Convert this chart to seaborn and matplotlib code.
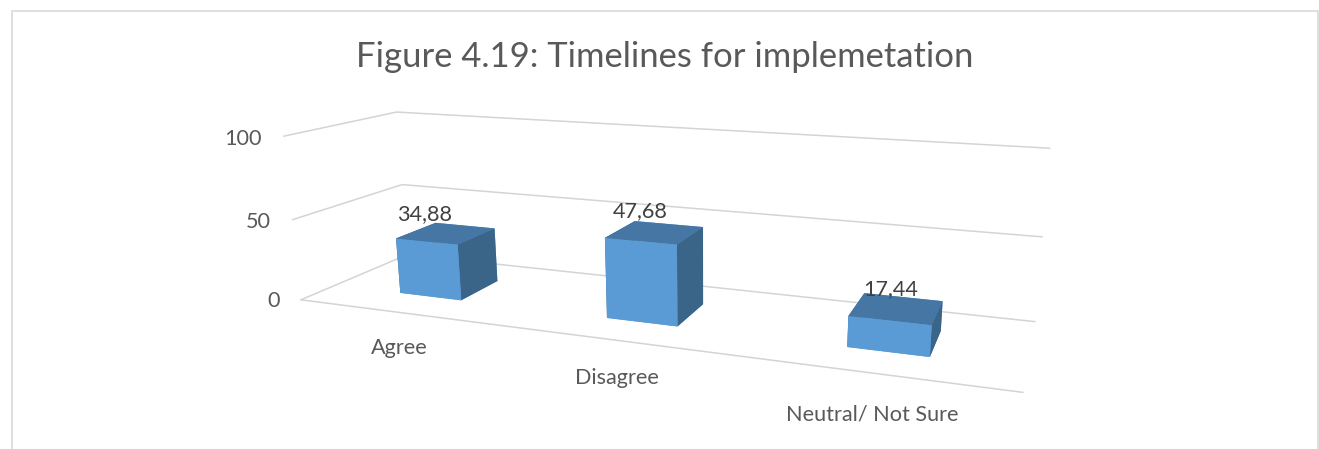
import numpy as np
import pandas as pd
import matplotlib
matplotlib.use("Agg")
import matplotlib.pyplot as plt
from matplotlib.lines import Line2D
from mpl_toolkits.mplot3d import Axes3D, proj3d  # noqa: F401
import seaborn as sns

# Survey responses, percent of respondents
categories = ["Agree", "Disagree", "Neutral/ Not Sure"]
values = [34.88, 47.68, 17.44]
value_labels = ["34,88", "47,68", "17,44"]
z_ticks = [0, 50, 100]
title = "Figure 4.19: Timelines for implemetation"

FRONT_FACE, TOP_FACE, SIDE_FACE = "#5B9BD5", "#4676A3", "#3A6488"
GRID, AXIS_TEXT, VALUE_TEXT = "#D4D4D4", "#595959", "#404040"
W, H = 1319, 449

sns.set_theme(style="white")
plt.rcParams["font.family"] = ["Lato", "DejaVu Sans"]

data = pd.DataFrame({"category": categories, "value": values, "label": value_labels})
data["slot"] = np.arange(len(data))


def camera_from_box_corners():
    """Solve the perspective camera for the plot box (x 0-3, y 0-1, z 0-100)."""
    box = [(0, 0, 0), (0, 0, 50), (0, 0, 100), (0, 1, 100), (0, 1, 50),
           (0, 1, 0), (3, 0, 0), (3, 1, 0), (3, 1, 50), (3, 1, 100)]
    screen = [(300, 300), (293, 220), (284, 136), (396, 112), (402, 185),
              (408, 254), (1023, 392), (1035, 322), (1042, 237), (1050, 148)]
    rows = []
    for (x, y, z), (u, v) in zip(box, screen):
        v = H - v
        rows.append([x, y, z, 1, 0, 0, 0, 0, -u * x, -u * y, -u * z, -u])
        rows.append([0, 0, 0, 0, x, y, z, 1, -v * x, -v * y, -v * z, -v])
    p = np.linalg.svd(np.array(rows, float))[2][-1].reshape(3, 4)
    p /= p[2, 3]
    # The third row keeps true camera depth so faces sort back to front.
    return np.vstack([p[0], p[1], [0, 0, 0, -0.5], p[2]])


fig = plt.figure(figsize=(W / 100, H / 100), dpi=100, facecolor="white")
ax = fig.add_axes([0, 0, 1, 1], projection="3d")
camera = camera_from_box_corners()
# The 'ortho' type only switches off the clip test on lines here; the solved
# perspective camera still does the projecting.
ax.set_proj_type("ortho")
ax.get_proj = lambda: camera
ax.apply_aspect = lambda position=None: None
ax.viewLim.intervalx = (0, W)
ax.viewLim.intervaly = (0, H)
ax.computed_zorder = False
ax.set_xticks([])
ax.set_yticks([])
ax.set_zticks([])
ax.set_axis_off()

# Unused empty text slots of the 3D axes
for empty in (ax.title, ax._left_title, ax._right_title):
    empty.set_visible(False)
for axis in (ax.xaxis, ax.yaxis, ax.zaxis):
    axis.label.set_visible(False)
    axis.offsetText.set_visible(False)


def label_at(x, y, z, text, color, ha="center"):
    """Write a flat label at the screen position of a point in the box."""
    u, v, _ = proj3d.proj_transform(x, y, z, camera)
    fig.text(u / W, v / H, text, ha=ha, va="center", fontsize=15.6,
             color=color, zorder=3)


# Back walls and floor edge
for tick in z_ticks:
    ax.plot([0, 0, 3], [0, 1, 1], [tick, tick, tick], color=GRID, lw=1.1, zorder=1)
    label_at(-0.115, 0, tick - 2.5, str(tick), AXIS_TEXT, ha="right")
ax.plot([0, 3], [0, 0], [0, 0], color=GRID, lw=1.1, zorder=1)

# Bars: one colour per face, in bar3d's order (-z, +z, -y, +y, -x, +x)
bar_width, depth_start, bar_depth = 0.31, 0.295, 0.39
lefts = data["slot"].to_numpy() + 0.5 - bar_width / 2
face_colors = [FRONT_FACE, TOP_FACE, FRONT_FACE, FRONT_FACE, SIDE_FACE, SIDE_FACE]
ax.bar3d(lefts, [depth_start] * len(data), [0] * len(data),
         bar_width, bar_depth, data["value"].to_numpy(),
         color=face_colors * len(data), shade=False, zorder=2,
         edgecolor="none", linewidth=0)

for row in data.itertuples():
    label_at(row.slot + 0.5, depth_start, row.value + 17, row.label, VALUE_TEXT)
    label_at(row.slot + 0.49, 0, -22.2, row.category, AXIS_TEXT)

fig.text(665 / W, 1 - 57 / H, title, ha="center", va="center",
         fontsize=24.9, color=AXIS_TEXT)

# Chart area outline, running off the lower edge
fig.add_artist(Line2D([12 / W, 12 / W, 1318 / W, 1318 / W],
                      [0, 1 - 10.5 / H, 1 - 10.5 / H, 0],
                      transform=fig.transFigure, color="#D9D9D9", lw=1.2))

fig.savefig("out.png", dpi=100)
